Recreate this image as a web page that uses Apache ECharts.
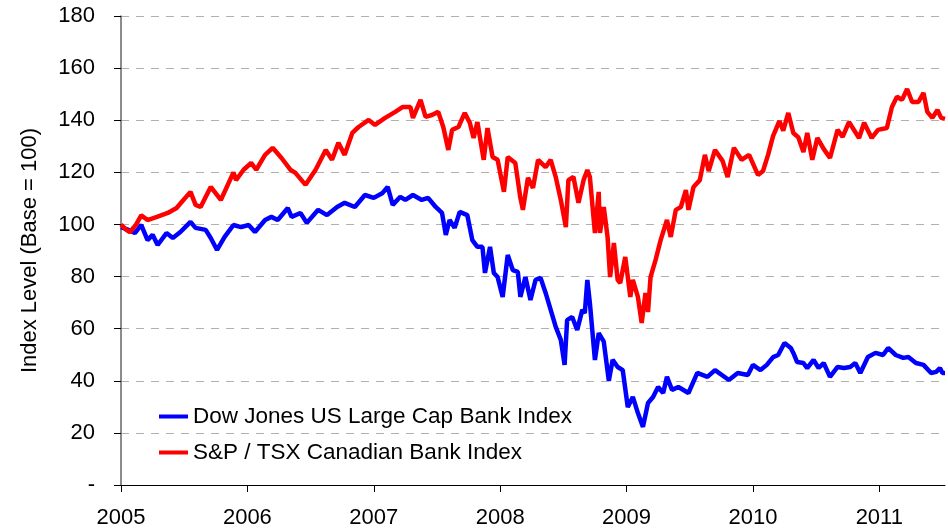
<!DOCTYPE html>
<html>
<head>
<meta charset="utf-8">
<script src="https://cdn.jsdelivr.net/npm/echarts@6/dist/echarts.min.js"></script>
<style>
  html, body { margin: 0; padding: 0; background: #fff; }
  #main { width: 948px; height: 530px; }
</style>
</head>
<body>
<div id="main"></div>
<script>
// x positions are decimal years
var yearTicks = [2005, 2006, 2007, 2008, 2009, 2010, 2011];
var valueTicks = [0, 20, 40, 60, 80, 100, 120, 140, 160, 180];

var usName = "Dow Jones US Large Cap Bank Index";
var usYears = [2005.00, 2005.06, 2005.11, 2005.16, 2005.21, 2005.25, 2005.29, 2005.36, 2005.41, 2005.47,
  2005.55, 2005.59, 2005.67, 2005.71, 2005.76, 2005.82, 2005.89, 2005.95, 2006.01, 2006.06,
  2006.14, 2006.19, 2006.24, 2006.32, 2006.35, 2006.42, 2006.47, 2006.56, 2006.63, 2006.71,
  2006.77, 2006.85, 2006.93, 2007.00, 2007.07, 2007.11, 2007.15, 2007.21, 2007.25, 2007.31,
  2007.38, 2007.43, 2007.49, 2007.54, 2007.57, 2007.60, 2007.64, 2007.68, 2007.74, 2007.78,
  2007.82, 2007.86, 2007.88, 2007.92, 2007.95, 2007.98, 2008.02, 2008.06, 2008.10, 2008.14,
  2008.16, 2008.20, 2008.24, 2008.28, 2008.32, 2008.36, 2008.40, 2008.44, 2008.48, 2008.51,
  2008.53, 2008.57, 2008.61, 2008.65, 2008.67, 2008.69, 2008.71, 2008.75, 2008.78, 2008.82,
  2008.86, 2008.89, 2008.93, 2008.97, 2009.01, 2009.05, 2009.09, 2009.13, 2009.17, 2009.21,
  2009.25, 2009.29, 2009.32, 2009.36, 2009.41, 2009.49, 2009.56, 2009.64, 2009.70, 2009.81,
  2009.88, 2009.96, 2010.00, 2010.06, 2010.11, 2010.16, 2010.20, 2010.25, 2010.30, 2010.32,
  2010.35, 2010.40, 2010.43, 2010.48, 2010.52, 2010.56, 2010.61, 2010.67, 2010.72, 2010.77,
  2010.81, 2010.85, 2010.91, 2010.97, 2011.03, 2011.07, 2011.13, 2011.19, 2011.23, 2011.29,
  2011.35, 2011.41, 2011.45, 2011.48, 2011.50, 2011.52];
var usValues = [99, 97.9, 96.7, 99.8, 94, 96, 92.1, 96.7, 94.8, 97.1,
  101, 98.7, 97.9, 94.8, 90.2, 95.2, 99.8, 99, 99.8, 97.1,
  101.7, 102.9, 101.7, 106.3, 102.9, 104.4, 100.6, 105.6, 103.6, 106.7,
  108.3, 106.7, 111.3, 110.2, 112.1, 114.4, 107.5, 110.6, 109.4, 111.3,
  109.4, 110.2, 106.7, 104.4, 96, 101.7, 98.7, 104.8, 103.6, 94,
  91.4, 91.4, 81.4, 91.4, 81.4, 79.8, 72.2, 88.3, 82.5, 81.8,
  72.2, 79.8, 71, 78.7, 79.5, 73.7, 67.2, 60.7, 55.7, 46.1,
  63.3, 64.5, 59.5, 67.2, 66, 78.7, 69.9, 48, 58.3, 55,
  40, 48, 45.3, 44.1, 29.9, 33.8, 27.6, 22.3, 31.5, 33.8,
  37.6, 35.3, 41.5, 36.5, 37.6, 35.3, 43, 41.5, 44.1, 40.3,
  43, 42.2, 46.1, 44.1, 46.1, 49.1, 49.9, 54.5, 52.6, 50.7,
  47.2, 46.8, 44.9, 48, 44.9, 46.8, 41.5, 45.3, 44.9, 45.3,
  46.8, 43, 49.1, 50.7, 49.9, 52.6, 49.9, 48.8, 49.1, 46.8,
  46.1, 43, 43.4, 44.9, 43, 43];

var caName = "S&P / TSX Canadian Bank Index";
var caYears = [2005.00, 2005.04, 2005.07, 2005.12, 2005.16, 2005.21, 2005.29, 2005.37, 2005.44, 2005.48,
  2005.55, 2005.59, 2005.63, 2005.71, 2005.79, 2005.89, 2005.91, 2005.97, 2006.03, 2006.07,
  2006.14, 2006.20, 2006.27, 2006.34, 2006.38, 2006.46, 2006.54, 2006.62, 2006.67, 2006.72,
  2006.77, 2006.83, 2006.88, 2006.96, 2007.01, 2007.09, 2007.17, 2007.23, 2007.29, 2007.31,
  2007.37, 2007.41, 2007.46, 2007.51, 2007.55, 2007.59, 2007.62, 2007.67, 2007.72, 2007.76,
  2007.79, 2007.82, 2007.87, 2007.90, 2007.94, 2007.98, 2008.03, 2008.06, 2008.12, 2008.16,
  2008.18, 2008.22, 2008.26, 2008.30, 2008.36, 2008.40, 2008.44, 2008.48, 2008.52, 2008.54,
  2008.58, 2008.62, 2008.66, 2008.69, 2008.71, 2008.75, 2008.78, 2008.79, 2008.82, 2008.85,
  2008.87, 2008.90, 2008.93, 2008.95, 2008.99, 2009.03, 2009.05, 2009.09, 2009.12, 2009.15,
  2009.17, 2009.19, 2009.23, 2009.27, 2009.32, 2009.35, 2009.39, 2009.43, 2009.47, 2009.49,
  2009.53, 2009.58, 2009.62, 2009.65, 2009.70, 2009.76, 2009.80, 2009.85, 2009.91, 2009.97,
  2010.04, 2010.08, 2010.12, 2010.16, 2010.21, 2010.24, 2010.28, 2010.32, 2010.36, 2010.40,
  2010.43, 2010.47, 2010.51, 2010.56, 2010.61, 2010.67, 2010.71, 2010.76, 2010.81, 2010.84,
  2010.88, 2010.94, 2010.99, 2011.06, 2011.10, 2011.14, 2011.18, 2011.22, 2011.26, 2011.31,
  2011.35, 2011.38, 2011.42, 2011.46, 2011.49, 2011.52];
var caValues = [100, 98, 97, 100, 103.5, 101.7, 103, 104.4, 106.3, 108.6,
  112.5, 107.5, 106.7, 114.4, 109.4, 120, 117, 121, 123.6, 121,
  126.7, 129.4, 125.5, 121, 119.8, 115.2, 121, 128.6, 124.8, 131.3,
  126.7, 135.1, 137.4, 140.1, 138.2, 140.9, 143.2, 145.1, 145.1, 140.9,
  147.8, 141.3, 142, 143.2, 137.4, 128.6, 136.3, 137.4, 142.8, 139,
  133.2, 139.3, 124.8, 137, 125.9, 124.8, 112.5, 125.9, 123.6, 110.2,
  105.6, 117.9, 114, 124.8, 122, 124.8, 118.2, 109.4, 99, 117,
  118.2, 108.3, 117, 120.9, 118.2, 96.7, 112.5, 96.7, 106.7, 95.2,
  79.8, 92.9, 78.7, 77.5, 87.5, 72.2, 78.7, 72.2, 62.2, 73.7,
  66.4, 79.8, 86.4, 94, 101.7, 95.2, 105.6, 106.7, 113.2, 105.6,
  114.4, 117, 126.7, 120.5, 128.6, 124.4, 118.2, 129.4, 124.8, 126.7,
  119, 120.5, 126.7, 134, 139.7, 136, 142.8, 135.1, 133.4, 127.8,
  135.1, 124.8, 133.2, 129, 125.5, 136.3, 133.6, 139.3, 135.5, 133.2,
  139, 133.2, 136.3, 137, 145.1, 149, 147.8, 152, 147, 147,
  150.5, 143.2, 140.9, 143.9, 140.9, 140.5];

function pairs(xs, ys) {
  return xs.map(function (x, i) { return [x, ys[i]]; });
}

var font = "'Liberation Sans', Arial, sans-serif";
var chart = echarts.init(document.getElementById("main"), null, { renderer: "canvas" });

var option = {
  animation: false,
  backgroundColor: "#fff",
  textStyle: { fontFamily: font },
  grid: { left: 121, right: 3, top: 16, bottom: 45, containLabel: false },
  legend: {
    orient: "vertical",
    left: 154,
    top: 400,
    icon: "rect",
    itemWidth: 29,
    itemHeight: 4,
    itemGap: 13,
    textStyle: { fontFamily: font, fontSize: 22.5, color: "#000" },
    data: [usName, caName]
  },
  xAxis: {
    type: "value",
    min: 2005,
    max: 2011.52,
    interval: 1,
    axisLine: { lineStyle: { color: "#000", width: 1 } },
    axisTick: { show: true, length: 7, lineStyle: { color: "#000" }, customValues: yearTicks },
    axisLabel: {
      customValues: yearTicks,
      margin: 22,
      fontSize: 22,
      fontFamily: font,
      color: "#000",
      formatter: function (v) { return String(Math.round(v)); }
    },
    splitLine: { show: false }
  },
  yAxis: {
    type: "value",
    min: 0,
    max: 180,
    interval: 20,
    name: "Index Level (Base = 100)",
    nameLocation: "middle",
    nameGap: 80,
    nameTextStyle: { fontSize: 22, fontFamily: font, color: "#000" },
    axisLine: { show: true, lineStyle: { color: "#666", width: 1.5 } },
    axisTick: { show: true, inside: false, length: 7, lineStyle: { color: "#000" } },
    axisLabel: {
      margin: 26,
      fontSize: 22,
      fontFamily: font,
      color: "#000",
      formatter: function (v) { return v === 0 ? "-" : String(v); }
    },
    splitLine: { show: true, lineStyle: { color: "#b0b0b0", type: [8, 7], width: 1 } }
  },
  series: [
    {
      name: usName,
      type: "line",
      data: pairs(usYears, usValues),
      showSymbol: false,
      symbol: "none",
      lineStyle: { color: "#0000ff", width: 4.5 },
      itemStyle: { color: "#0000ff" }
    },
    {
      name: caName,
      type: "line",
      data: pairs(caYears, caValues),
      showSymbol: false,
      symbol: "none",
      lineStyle: { color: "#ff0000", width: 4.5 },
      itemStyle: { color: "#ff0000" }
    }
  ]
};
chart.setOption(option);
</script>
</body>
</html>
